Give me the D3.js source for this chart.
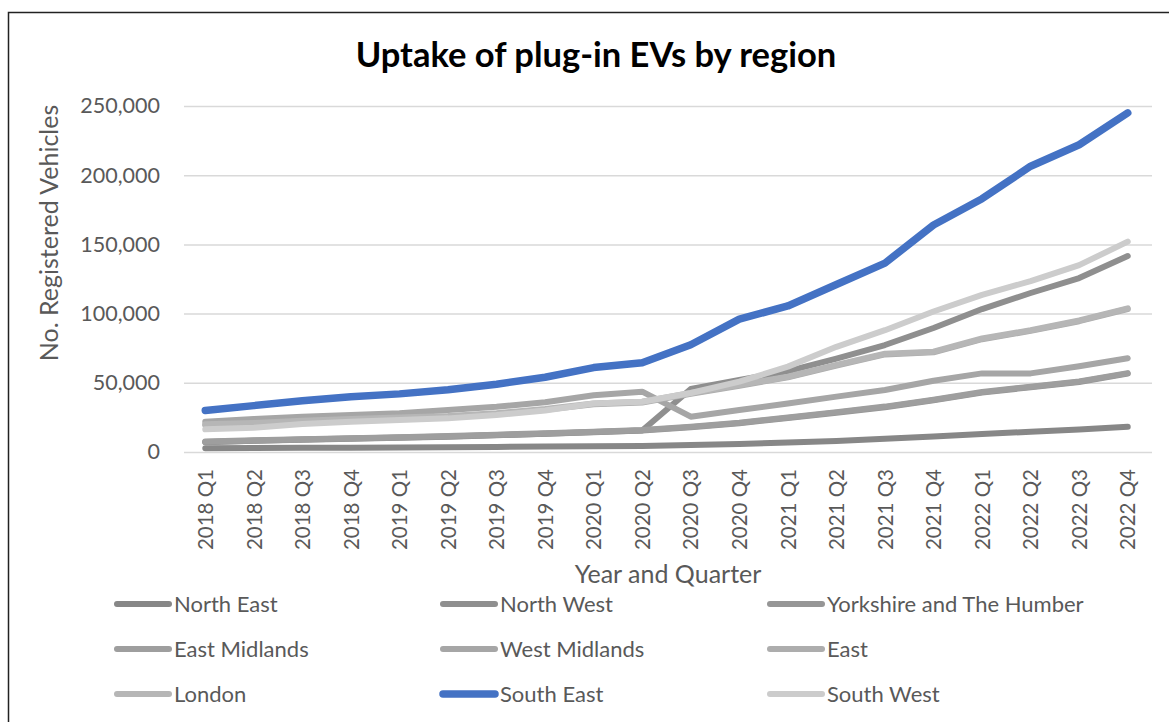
<!DOCTYPE html>
<html>
<head>
<meta charset="utf-8">
<script src="https://cdn.jsdelivr.net/npm/d3@7"></script>
<style>
  body { margin: 0; background: #fff; }
  text { font-family: Lato, "Open Sans", sans-serif; }
</style>
</head>
<body>
<div class="chart"></div>
<script>
var svgWidth = 1169;
var svgHeight = 722;

// Data
var quarters = ["2018 Q1", "2018 Q2", "2018 Q3", "2018 Q4", "2019 Q1", "2019 Q2", "2019 Q3", "2019 Q4",
  "2020 Q1", "2020 Q2", "2020 Q3", "2020 Q4", "2021 Q1", "2021 Q2", "2021 Q3", "2021 Q4",
  "2022 Q1", "2022 Q2", "2022 Q3", "2022 Q4"];

var northEast = [2800, 2900, 3000, 3100, 3300, 3500, 3700, 3900, 4100, 4400, 5000, 5800, 6800, 8000, 9600, 11200, 13000, 14600, 16200, 18200];
var northWest = [7200, 8200, 9000, 9700, 10400, 11200, 12200, 13200, 14400, 15600, 45500, 52000, 58500, 67500, 77300, 89600, 103300, 114900, 125700, 141600];
var yorkshire = [7100, 8100, 8900, 9600, 10300, 11100, 12100, 13100, 14300, 15500, 17900, 20800, 24600, 28400, 32400, 37400, 42900, 46800, 50600, 56600];
var eastMidlands = [7500, 8500, 9300, 10000, 10700, 11500, 12500, 13500, 14700, 15900, 18300, 21200, 25000, 28800, 32800, 37800, 43300, 47200, 51000, 57000];
var westMidlands = [21900, 23800, 25500, 26700, 28000, 30300, 32700, 36000, 41000, 43600, 25500, 30300, 35000, 40000, 44800, 51500, 56800, 56800, 62000, 67700];
var east = [19500, 20500, 22000, 23300, 24500, 25500, 27500, 30500, 34500, 35800, 42100, 47900, 53900, 62400, 70500, 72000, 81500, 87500, 94500, 103300];
var london = [20000, 21000, 22500, 23800, 25000, 26000, 28000, 31000, 35000, 36300, 42600, 48400, 54400, 62900, 71000, 72500, 82000, 88000, 95000, 103800];
var southEast = [30000, 33500, 37000, 40000, 42000, 45000, 49000, 54000, 61000, 64500, 77500, 96000, 105500, 121000, 136500, 164000, 183000, 206500, 222000, 245000];
var southWest = [16400, 17500, 20200, 21900, 23100, 24300, 26700, 30000, 35000, 36300, 42600, 50800, 61700, 76000, 88000, 101500, 113500, 123500, 135000, 152000];

var yTicks = [0, 50000, 100000, 150000, 200000, 250000];

var series = [
  { name: "North East", values: northEast, color: "#878787", w: 6 },
  { name: "North West", values: northWest, color: "#8f8f8f", w: 6 },
  { name: "Yorkshire and The Humber", values: yorkshire, color: "#969696", w: 6 },
  { name: "East Midlands", values: eastMidlands, color: "#9e9e9e", w: 6 },
  { name: "West Midlands", values: westMidlands, color: "#a6a6a6", w: 6 },
  { name: "East", values: east, color: "#adadad", w: 6 },
  { name: "London", values: london, color: "#b6b6b6", w: 6 },
  { name: "South East", values: southEast, color: "#4472c4", w: 7.5 },
  { name: "South West", values: southWest, color: "#cccccc", w: 6 }
];

var svg = d3.select(".chart")
  .append("svg")
  .attr("width", svgWidth)
  .attr("height", svgHeight);

// outer frame
svg.append("rect")
  .attr("x", 8.5)
  .attr("y", 12.5)
  .attr("width", 1200)
  .attr("height", 760)
  .attr("fill", "#fff")
  .attr("stroke", "#222")
  .attr("stroke-width", 1.5);

// title
svg.append("text")
  .attr("x", 596)
  .attr("y", 67)
  .attr("text-anchor", "middle")
  .style("font-size", "34.5px")
  .style("font-weight", "bold")
  .attr("fill", "#000")
  .text("Uptake of plug-in EVs by region");

// scales
var xScale = d3.scalePoint()
  .domain(quarters)
  .range([181, 1152])
  .padding(0.5);

var yScale = d3.scaleLinear()
  .domain([0, 250000])
  .range([452, 106]);

// gridlines + y labels
var leftAxis = d3.axisLeft(yScale)
  .tickValues(yTicks)
  .tickFormat(d3.format(","))
  .tickSize(-(1152 - 184))
  .tickPadding(24);

var yAxisG = svg.append("g")
  .attr("transform", "translate(184,0)")
  .call(leftAxis);
yAxisG.select(".domain").remove();
yAxisG.selectAll("line").attr("stroke", "#d9d9d9").attr("stroke-width", 1.5);
yAxisG.selectAll("text")
  .attr("fill", "#595959")
  .style("font-size", "21.5px");

// x labels
var bottomAxis = d3.axisBottom(xScale).tickSize(0).tickPadding(0);
var xAxisG = svg.append("g")
  .attr("transform", "translate(0,452)")
  .call(bottomAxis);
xAxisG.select(".domain").remove();
xAxisG.selectAll("text")
  .attr("transform", "rotate(-90)")
  .attr("x", -17)
  .attr("y", 0)
  .attr("dy", "0.35em")
  .attr("text-anchor", "end")
  .attr("fill", "#595959")
  .style("font-size", "20.5px");

// axis titles
svg.append("text")
  .attr("transform", "translate(58,233) rotate(-90)")
  .attr("text-anchor", "middle")
  .attr("fill", "#595959")
  .style("font-size", "25px")
  .text("No. Registered Vehicles");

svg.append("text")
  .attr("x", 668)
  .attr("y", 583)
  .attr("text-anchor", "middle")
  .attr("fill", "#595959")
  .style("font-size", "25px")
  .text("Year and Quarter");

// lines
var line = d3.line()
  .x(function(d, i) { return xScale(quarters[i]); })
  .y(function(d) { return yScale(d); });

svg.append("g").selectAll("path")
  .data(series)
  .enter()
  .append("path")
  .attr("d", function(s) { return line(s.values); })
  .attr("fill", "none")
  .attr("stroke", function(s) { return s.color; })
  .attr("stroke-width", function(s) { return s.w; })
  .attr("stroke-linejoin", "round")
  .attr("stroke-linecap", "round");

// legend (3 columns x 3 rows)
var colX = [114, 440, 767];
var rowY = [604, 649, 694];
var legend = svg.append("g").selectAll("g")
  .data(series)
  .enter()
  .append("g")
  .attr("transform", function(s, i) { return "translate(" + colX[i % 3] + "," + rowY[Math.floor(i / 3)] + ")"; });

legend.append("line")
  .attr("x1", 3).attr("x2", 55)
  .attr("y1", 0).attr("y2", 0)
  .attr("stroke", function(s) { return s.color; })
  .attr("stroke-width", function(s) { return s.w; })
  .attr("stroke-linecap", "round");

legend.append("text")
  .attr("x", 60)
  .attr("y", 0)
  .attr("dy", "0.35em")
  .attr("fill", "#595959")
  .style("font-size", "22px")
  .text(function(s) { return s.name; });
</script>
</body>
</html>
